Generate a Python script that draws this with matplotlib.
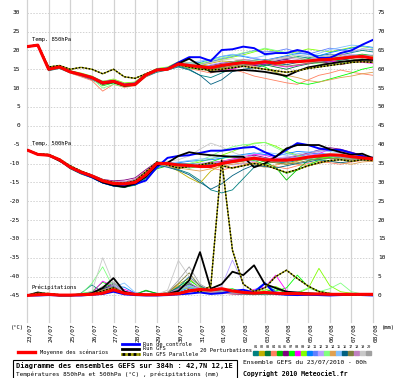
import matplotlib
matplotlib.use("Agg")
import matplotlib.pyplot as plt
import matplotlib.transforms as mtrans

# time steps (hours from 23/07 00h), 12h resolution
hours = list(range(0, 385, 12))
day_labels = ["23/07", "24/07", "25/07", "26/07", "27/07", "28/07", "29/07", "30/07", "31/07",
              "01/08", "02/08", "03/08", "04/08", "05/08", "06/08", "07/08", "08/08"]

# ---- 850 hPa (°C)
t850_mean = [21.0, 21.4, 15.0, 15.6, 14.3, 13.6, 12.8, 11.4, 11.8, 10.8, 11.0, 13.5, 14.8, 15.0, 16.4, 16.0, 15.7,
             15.4, 16.0, 16.4, 16.8, 16.6, 17.0, 16.6, 17.0, 17.0, 17.2, 17.5, 17.6, 17.9, 18.2, 18.4, 17.9]
t850_ctrl = [21.0, 21.4, 15.1, 15.7, 14.4, 13.6, 12.9, 11.5, 11.9, 10.9, 11.2, 13.6, 14.9, 15.2, 16.8, 18.2, 18.2,
             17.2, 20.1, 20.3, 21.0, 20.6, 19.0, 19.3, 19.3, 20.1, 19.5, 18.0, 18.0, 19.3, 20.0, 21.5, 22.8]
t850_gfs = [21.0, 21.4, 15.0, 15.6, 14.3, 13.6, 12.7, 11.2, 11.6, 10.6, 10.9, 13.4, 14.7, 15.1, 16.5, 17.8, 16.0,
            14.3, 14.5, 14.6, 14.8, 14.6, 14.3, 13.8, 13.2, 14.5, 15.5, 16.0, 16.5, 17.0, 17.2, 17.5, 17.5]
t850_para = [21.0, 21.5, 15.6, 16.0, 15.0, 15.5, 15.0, 13.8, 15.0, 13.0, 12.6, 13.8, 14.8, 15.2, 16.2, 15.6, 15.0,
             14.8, 15.0, 15.4, 15.8, 15.4, 15.0, 14.6, 14.2, 14.6, 15.2, 15.6, 16.0, 16.4, 16.8, 17.0, 16.8]
t850_pert = [
    [21.0, 21.3, 14.6, 15.2, 14.0, 13.2, 12.2, 10.8, 11.4, 10.5, 11.2, 13.0, 14.2, 14.8, 15.6, 14.8, 13.4, 12.8, 14.0, 15.2, 16.0, 16.2, 16.8, 17.2, 17.8, 18.4, 18.0, 18.6, 19.0, 18.8, 19.4, 20.0, 19.6],
    [21.0, 21.5, 15.2, 15.9, 14.6, 13.8, 13.0, 11.6, 12.0, 11.0, 11.6, 13.8, 15.0, 15.4, 16.8, 16.4, 16.0, 16.6, 17.2, 17.0, 17.6, 17.0, 16.4, 16.0, 16.8, 17.4, 17.0, 17.8, 18.2, 18.6, 18.0, 18.8, 18.4],
    [21.0, 21.4, 14.8, 15.4, 14.2, 13.4, 12.6, 11.0, 11.6, 10.6, 11.0, 13.2, 14.6, 15.2, 16.2, 15.8, 15.4, 15.0, 15.6, 16.2, 16.4, 16.0, 16.2, 15.6, 15.0, 15.8, 16.4, 16.8, 17.0, 17.4, 17.8, 17.2, 17.0],
    [21.0, 21.3, 15.1, 15.6, 14.0, 13.0, 12.0, 9.2, 11.0, 10.2, 10.6, 13.0, 14.6, 15.0, 16.0, 15.2, 14.6, 14.0, 14.8, 15.0, 14.2, 13.2, 12.6, 12.0, 11.4, 11.0, 12.2, 13.4, 14.0, 14.8, 14.2, 13.8, 13.4],
    [21.0, 21.4, 15.3, 15.8, 14.4, 13.8, 13.0, 11.8, 12.2, 11.2, 11.4, 13.6, 15.0, 15.2, 16.6, 16.2, 16.0, 15.8, 16.4, 16.8, 17.2, 17.4, 17.6, 17.0, 16.8, 17.2, 17.8, 18.2, 18.4, 18.0, 18.6, 19.0, 18.6],
    [21.0, 21.4, 15.0, 15.5, 14.2, 13.4, 12.4, 11.2, 11.6, 10.8, 11.2, 13.6, 14.8, 15.4, 16.2, 15.6, 15.2, 16.0, 16.6, 17.0, 16.6, 16.0, 16.4, 17.2, 17.6, 17.0, 17.4, 17.2, 16.6, 16.2, 16.8, 17.2, 17.0],
    [21.0, 21.4, 15.0, 15.5, 14.4, 13.8, 12.8, 10.6, 11.4, 10.4, 10.8, 13.2, 14.6, 15.0, 16.0, 15.4, 15.0, 15.6, 16.2, 17.0, 17.4, 16.8, 15.6, 14.2, 12.8, 11.4, 11.0, 11.6, 12.4, 13.2, 14.0, 15.0, 15.6],
    [21.0, 21.4, 15.2, 15.8, 14.4, 13.6, 12.8, 11.6, 12.0, 11.0, 11.4, 13.6, 14.8, 15.2, 16.6, 16.2, 15.8, 15.2, 14.6, 15.0, 15.8, 16.2, 16.6, 16.0, 15.6, 16.0, 16.6, 17.0, 17.2, 16.8, 17.4, 16.8, 16.6],
    [21.0, 21.4, 15.4, 15.8, 14.6, 14.0, 13.2, 11.8, 12.4, 11.4, 11.6, 13.8, 15.2, 15.6, 17.0, 16.8, 16.4, 17.0, 17.6, 18.2, 18.8, 19.6, 20.4, 19.8, 19.2, 19.6, 20.4, 20.0, 19.6, 20.2, 20.8, 21.0, 20.6],
    [21.0, 21.4, 15.0, 15.6, 14.2, 13.4, 12.6, 11.2, 11.8, 10.8, 11.2, 13.4, 14.6, 15.0, 16.6, 16.4, 16.8, 17.6, 18.4, 18.8, 18.4, 17.8, 17.4, 18.0, 18.6, 19.2, 19.0, 18.6, 19.4, 20.0, 20.6, 21.2, 20.8],
    [21.0, 21.4, 15.1, 15.6, 14.4, 13.8, 13.0, 11.6, 12.0, 11.0, 11.2, 13.4, 14.8, 15.2, 16.4, 16.0, 16.2, 17.0, 17.8, 18.4, 19.2, 20.0, 19.6, 19.8, 20.4, 19.6, 19.0, 19.8, 20.6, 20.2, 19.6, 20.4, 20.2],
    [21.0, 21.4, 14.9, 15.5, 14.2, 13.6, 12.8, 11.4, 11.8, 10.6, 10.8, 13.2, 14.6, 15.0, 16.2, 15.8, 15.4, 16.2, 16.8, 16.4, 17.2, 18.0, 17.4, 17.8, 17.2, 16.8, 17.6, 18.2, 18.8, 18.4, 19.0, 18.6, 18.8],
    [21.0, 21.4, 15.0, 15.6, 14.3, 13.6, 12.6, 10.0, 11.0, 10.4, 10.8, 13.4, 14.8, 15.2, 16.4, 16.2, 16.6, 17.4, 18.0, 18.6, 19.4, 19.8, 20.6, 20.0, 19.4, 18.2, 17.0, 16.4, 16.0, 16.6, 17.0, 17.6, 17.2],
    [21.0, 21.4, 15.0, 15.6, 14.4, 13.6, 12.6, 10.8, 11.6, 10.6, 11.0, 13.4, 14.8, 15.0, 16.2, 15.8, 15.2, 14.6, 15.2, 15.8, 16.2, 15.8, 15.0, 14.2, 13.4, 12.8, 12.0, 11.6, 12.2, 12.8, 13.2, 13.8, 14.2],
    [21.0, 21.4, 15.0, 15.6, 14.3, 13.6, 12.8, 11.4, 11.8, 10.8, 11.0, 13.6, 15.0, 15.4, 16.4, 16.8, 17.2, 17.6, 18.4, 19.0, 18.6, 18.0, 18.6, 19.2, 19.6, 18.8, 18.4, 19.2, 20.2, 20.8, 21.4, 21.2, 20.6],
    [21.0, 21.4, 15.0, 15.6, 14.3, 13.6, 12.8, 11.4, 11.8, 10.8, 11.0, 13.4, 14.6, 15.0, 15.8, 15.0, 13.4, 11.0, 12.2, 14.4, 15.0, 15.4, 16.0, 16.6, 16.2, 16.8, 17.2, 16.8, 17.4, 17.8, 17.2, 17.6, 17.4],
    [21.0, 21.4, 15.2, 15.8, 14.6, 13.8, 13.0, 11.6, 12.0, 11.2, 11.4, 13.6, 14.8, 15.0, 16.2, 15.6, 15.2, 15.0, 15.4, 15.8, 16.2, 16.4, 16.8, 16.2, 15.8, 16.2, 16.6, 16.8, 16.4, 16.8, 17.4, 17.8, 17.2],
    [21.0, 21.4, 15.0, 15.6, 14.2, 13.4, 12.4, 11.0, 11.6, 10.6, 11.0, 13.2, 14.6, 15.2, 16.6, 16.0, 15.6, 15.8, 16.4, 17.0, 17.6, 17.2, 16.8, 17.4, 18.0, 17.6, 17.2, 17.8, 18.4, 19.0, 18.6, 18.2, 18.0],
    [21.0, 21.4, 15.1, 15.7, 14.4, 13.8, 13.0, 11.8, 12.2, 11.2, 11.4, 13.6, 15.0, 15.4, 16.8, 16.6, 16.2, 16.8, 17.4, 17.8, 17.4, 17.0, 16.8, 17.4, 18.2, 18.8, 18.4, 18.0, 18.6, 19.2, 19.8, 20.4, 20.0],
    [21.0, 21.4, 15.0, 15.6, 14.2, 13.4, 12.6, 11.2, 11.8, 10.8, 11.0, 13.4, 14.6, 14.8, 16.0, 15.6, 15.4, 15.8, 16.2, 16.0, 16.4, 16.8, 17.2, 17.8, 18.4, 18.0, 17.6, 17.0, 17.4, 18.0, 18.4, 18.8, 18.6],
]

# ---- 500 hPa (°C)
t500_mean = [-6.4, -7.6, -7.8, -9.0, -11.0, -12.3, -13.3, -14.6, -15.3, -15.4, -15.0, -13.0, -10.0, -10.0, -10.4, -10.5, -10.8,
             -10.8, -10.0, -9.5, -9.0, -8.6, -9.0, -9.1, -9.1, -8.8, -8.3, -8.0, -7.7, -7.8, -8.2, -8.5, -8.8]
t500_ctrl = [-6.4, -7.6, -7.8, -9.1, -11.1, -12.5, -13.6, -15.0, -15.8, -15.9, -15.5, -14.5, -11.0, -8.5, -8.0, -7.8, -7.2,
             -6.6, -6.6, -6.2, -5.8, -5.6, -7.0, -8.2, -6.4, -4.6, -5.1, -6.0, -6.4, -6.4, -7.2, -8.0, -9.0]
t500_gfs = [-6.4, -7.5, -7.8, -9.3, -10.8, -12.3, -13.5, -15.0, -15.8, -16.2, -15.3, -13.5, -10.4, -9.8, -8.0, -7.0, -7.5,
            -7.8, -8.0, -8.2, -8.2, -11.0, -10.0, -8.2, -6.0, -5.1, -5.1, -5.1, -6.2, -7.0, -7.7, -7.4, -8.6]
t500_para = [-6.4, -7.5, -7.6, -8.8, -10.6, -12.0, -13.2, -14.4, -15.0, -15.2, -14.6, -12.2, -9.6, -10.4, -11.2, -10.8, -10.4,
             -9.8, -10.6, -11.2, -10.6, -10.0, -10.4, -11.4, -12.4, -11.6, -10.6, -9.8, -9.2, -9.0, -9.4, -9.0, -9.2]
t500_pert = [
    [-6.4, -7.5, -7.6, -9.2, -11.2, -12.6, -13.6, -15.0, -15.8, -16.0, -15.4, -12.8, -10.2, -10.8, -11.6, -12.6, -14.5, -17.0, -17.8, -17.0, -14.0, -11.0, -10.0, -9.6, -9.8, -9.2, -8.8, -9.0, -8.6, -8.0, -8.4, -8.8, -9.2],
    [-6.4, -7.6, -7.8, -8.8, -10.8, -12.0, -13.0, -14.2, -15.0, -15.2, -14.6, -12.4, -9.8, -10.6, -12.0, -13.8, -15.2, -12.0, -10.4, -9.6, -9.2, -8.8, -9.4, -9.8, -10.2, -9.4, -8.6, -8.2, -8.4, -8.8, -8.6, -8.2, -8.6],
    [-6.4, -7.7, -8.0, -9.2, -11.4, -12.8, -13.8, -15.2, -16.0, -16.4, -15.6, -13.6, -10.8, -10.2, -10.0, -10.4, -10.2, -9.8, -9.6, -9.2, -9.0, -8.6, -9.2, -9.6, -9.4, -9.0, -8.6, -8.4, -8.0, -8.2, -8.6, -9.0, -9.2],
    [-6.4, -7.6, -7.8, -9.0, -10.8, -12.2, -13.4, -14.6, -15.2, -15.0, -14.2, -12.0, -10.4, -10.8, -11.2, -10.8, -10.6, -11.2, -11.8, -11.0, -10.4, -9.6, -10.2, -10.8, -11.4, -10.6, -10.0, -9.4, -9.8, -10.2, -9.6, -9.2, -9.4],
    [-6.4, -7.6, -7.9, -9.1, -11.0, -12.4, -13.6, -15.0, -15.8, -16.2, -15.8, -14.0, -11.4, -10.6, -10.2, -10.0, -10.4, -10.0, -9.4, -9.0, -8.6, -8.8, -9.6, -11.0, -14.4, -11.6, -9.2, -8.6, -8.2, -8.4, -8.6, -8.8, -9.0],
    [-6.4, -7.6, -7.8, -9.0, -10.8, -12.0, -13.0, -14.2, -14.6, -14.4, -13.8, -11.6, -9.6, -10.2, -10.6, -10.4, -10.6, -10.2, -9.6, -9.2, -8.4, -7.8, -8.4, -9.0, -8.6, -8.0, -7.2, -6.4, -5.8, -6.2, -7.0, -7.8, -8.4],
    [-6.4, -7.5, -7.7, -8.9, -10.9, -12.3, -13.4, -14.8, -15.4, -15.6, -15.2, -13.2, -10.4, -10.6, -10.8, -11.2, -10.8, -9.6, -8.6, -8.2, -8.6, -9.2, -10.2, -11.4, -12.6, -11.8, -10.4, -9.2, -8.4, -8.0, -8.6, -9.0, -9.4],
    [-6.4, -7.6, -7.8, -9.0, -11.0, -12.2, -13.2, -14.6, -15.2, -15.2, -14.6, -12.6, -10.2, -10.0, -10.6, -11.0, -10.4, -9.8, -9.4, -8.8, -8.2, -7.6, -7.8, -8.6, -9.2, -8.6, -8.0, -7.4, -6.2, -6.8, -7.6, -8.2, -8.6],
    [-6.4, -7.6, -7.8, -9.0, -11.2, -12.4, -13.4, -14.8, -15.6, -15.8, -15.4, -13.4, -10.6, -10.4, -10.8, -10.2, -9.6, -8.8, -7.8, -6.8, -5.6, -4.6, -4.4, -5.4, -6.8, -7.8, -8.2, -8.6, -8.2, -7.6, -8.0, -8.4, -8.8],
    [-6.4, -7.6, -7.9, -9.1, -11.2, -12.6, -13.8, -15.2, -16.0, -16.2, -15.6, -13.8, -11.2, -10.2, -9.8, -9.4, -9.2, -9.0, -8.6, -8.0, -7.6, -7.2, -7.6, -8.0, -7.4, -6.8, -7.0, -7.6, -8.0, -8.4, -8.0, -8.4, -8.6],
    [-6.4, -7.6, -7.8, -9.0, -10.9, -12.2, -13.2, -14.4, -15.0, -15.0, -14.4, -12.2, -9.6, -9.8, -10.2, -10.0, -10.2, -10.6, -10.2, -9.6, -9.0, -8.4, -8.8, -9.2, -8.8, -8.2, -7.6, -7.2, -7.6, -8.0, -8.4, -8.8, -9.0],
    [-6.4, -7.6, -7.8, -9.0, -11.0, -12.4, -13.4, -14.6, -15.4, -15.6, -15.2, -13.2, -10.6, -10.8, -11.0, -10.6, -10.0, -9.6, -9.8, -10.4, -10.0, -9.4, -9.0, -8.6, -8.2, -8.4, -8.0, -7.6, -7.8, -8.2, -8.8, -9.2, -9.4],
    [-6.4, -7.6, -7.8, -9.0, -11.0, -12.4, -13.4, -15.0, -15.6, -15.8, -15.2, -12.8, -10.0, -10.2, -10.6, -10.0, -9.2, -8.0, -6.6, -5.6, -5.0, -4.8, -4.4, -5.8, -7.2, -8.0, -8.6, -9.2, -8.6, -8.0, -8.4, -8.8, -9.0],
    [-6.4, -7.6, -7.8, -9.0, -11.0, -12.2, -13.2, -14.4, -15.0, -15.2, -14.8, -12.6, -10.2, -10.6, -11.2, -11.6, -12.0, -11.4, -10.8, -10.2, -9.8, -10.4, -11.0, -10.4, -9.8, -10.2, -10.6, -10.0, -9.4, -9.8, -10.2, -9.6, -9.4],
    [-6.4, -7.6, -7.8, -9.0, -11.0, -12.2, -13.2, -14.6, -15.4, -15.4, -14.8, -12.8, -10.0, -9.8, -9.6, -9.2, -8.8, -8.6, -8.2, -8.0, -7.8, -7.4, -7.0, -7.4, -7.8, -7.4, -7.0, -6.6, -6.8, -7.2, -7.6, -8.0, -8.2],
    [-6.4, -7.6, -7.8, -9.0, -11.0, -12.4, -13.4, -14.8, -15.6, -15.8, -15.2, -13.0, -10.4, -11.0, -11.8, -13.0, -15.0, -16.8, -15.4, -13.2, -11.6, -10.4, -10.8, -11.2, -10.6, -10.0, -9.6, -9.0, -9.4, -9.8, -9.4, -9.0, -9.2],
    [-6.4, -7.6, -7.8, -9.0, -11.0, -12.2, -13.2, -14.6, -15.2, -15.4, -15.0, -13.0, -10.2, -10.2, -10.6, -10.8, -10.6, -10.4, -10.0, -9.8, -9.4, -9.0, -9.4, -9.8, -10.2, -9.8, -9.2, -8.8, -8.6, -8.8, -9.0, -8.8, -9.0],
    [-6.4, -7.6, -7.8, -9.0, -10.8, -12.0, -13.0, -14.2, -14.8, -14.8, -14.2, -12.2, -9.8, -10.0, -10.4, -10.6, -10.2, -9.8, -9.4, -9.0, -8.6, -8.2, -8.6, -9.0, -8.4, -7.8, -7.4, -6.8, -6.2, -6.6, -7.2, -7.8, -8.2],
    [-6.4, -7.6, -7.8, -9.0, -11.0, -12.4, -13.4, -14.6, -15.2, -15.2, -14.6, -12.4, -9.6, -9.4, -9.0, -8.0, -6.2, -4.6, -5.6, -7.0, -8.0, -8.4, -8.8, -9.2, -9.0, -8.6, -8.2, -7.8, -7.4, -7.6, -8.0, -8.4, -8.6],
    [-6.4, -7.6, -7.8, -9.0, -11.0, -12.4, -13.4, -14.8, -15.4, -15.6, -15.2, -13.2, -10.4, -10.4, -10.6, -10.8, -11.0, -10.6, -10.2, -9.6, -9.2, -8.8, -9.2, -9.6, -9.4, -9.0, -8.6, -8.2, -8.0, -8.4, -8.8, -9.0, -9.2],
]

# ---- precipitation (mm), drawn on the right scale (0 mm = -45 on the left scale)
rr_mean = [0, 0.2, 0.3, 0.1, 0.1, 0.2, 0.3, 0.6, 1.5, 0.6, 0.3, 0.2, 0.2, 0.3, 0.5, 1.2, 1.6,
           1.4, 1.8, 1.2, 0.8, 0.6, 0.8, 0.6, 0.5, 0.5, 0.4, 0.4, 0.3, 0.3, 0.3, 0.3, 0.3]
rr_ctrl = [0, 0, 0.1, 0, 0, 0, 0.2, 0.4, 1.0, 0.3, 0.1, 0, 0, 0.1, 0.3, 0.5, 0.8,
           0.4, 0.6, 1.2, 1.5, 0.8, 3.2, 0.4, 0.2, 0.1, 0.2, 0.1, 0, 0.1, 0.2, 0.1, 0]
rr_gfs = [0, 0.8, 0.3, 0, 0, 0.2, 0.6, 2.0, 4.6, 1.0, 0.3, 0.2, 0.2, 0.4, 1.2, 4.0, 11.5,
          1.8, 3.0, 6.3, 5.4, 8.0, 3.0, 2.0, 1.0, 0.8, 0.6, 0.4, 0.3, 0.3, 0.2, 0.3, 0.2]
rr_para = [0, 0.6, 0.5, 0.2, 0, 0.2, 0.4, 1.2, 2.0, 0.6, 0.3, 0.2, 0.2, 0.3, 0.6, 1.5, 1.0,
           2.5, 36.0, 12.0, 3.0, 1.0, 2.0, 5.0, 6.7, 4.5, 2.5, 1.0, 0.5, 0.3, 0.2, 0.2, 0.2]
rr_pert = [
    [0, 0.3, 0.5, 0.2, 0, 0.6, 2.8, 0.8, 1.2, 0.4, 0.2, 0.1, 0.2, 0.6, 2.0, 3.5, 1.2, 0.8, 1.0, 0.6, 0.4, 0.3, 0.2, 0.3, 0.2, 0.1, 0.2, 0.3, 0.2, 0.1, 0.2, 0.1, 0.1],
    [0, 0.4, 0.6, 0.1, 0, 0.2, 0.4, 1.5, 2.5, 0.6, 0.3, 0.2, 0.2, 0.5, 3.0, 4.5, 2.0, 1.0, 0.6, 0.8, 0.4, 0.3, 0.6, 0.4, 0.3, 0.2, 0.2, 0.1, 0.1, 0.2, 0.1, 0.1, 0.1],
    [0, 0.2, 0.4, 0.1, 0, 0.3, 0.8, 2.0, 3.2, 0.8, 0.4, 1.2, 0.6, 0.4, 1.5, 3.0, 1.6, 0.8, 1.2, 0.6, 0.3, 0.2, 0.4, 0.3, 0.2, 0.2, 0.1, 0.2, 0.1, 0.1, 0.1, 0.2, 0.1],
    [0, 0.2, 0.3, 0.1, 0, 0.2, 0.5, 1.2, 2.0, 0.5, 0.2, 0.1, 0.3, 0.8, 2.5, 1.8, 0.8, 0.5, 0.6, 0.4, 0.3, 0.8, 0.4, 0.2, 0.2, 0.3, 0.2, 0.1, 0.1, 0.1, 0.2, 0.1, 0.1],
    [0, 0.3, 0.5, 0.2, 0, 0.3, 0.6, 1.8, 2.6, 0.6, 0.3, 1.4, 0.5, 0.4, 1.8, 3.2, 1.4, 0.6, 0.8, 1.0, 0.5, 0.4, 1.0, 1.8, 0.6, 0.3, 0.2, 0.2, 0.1, 0.1, 0.1, 0.1, 0.1],
    [0, 0.2, 0.4, 0.1, 0, 0.2, 0.6, 1.6, 3.0, 0.8, 0.4, 0.2, 0.2, 0.4, 1.2, 2.8, 1.8, 0.8, 0.6, 0.4, 0.3, 0.5, 0.6, 0.4, 0.3, 0.2, 0.2, 0.1, 0.1, 0.1, 0.1, 0.1, 0.1],
    [0, 0.2, 0.3, 0.1, 0, 0.5, 1.0, 3.5, 2.2, 0.6, 0.3, 0.2, 0.3, 0.6, 2.4, 4.0, 2.2, 1.0, 1.4, 1.8, 0.8, 0.6, 0.8, 1.2, 2.0, 5.4, 2.4, 1.2, 0.6, 0.4, 0.3, 0.2, 0.2],
    [0, 0.3, 0.4, 0.1, 0, 0.3, 0.6, 3.8, 2.4, 1.6, 0.6, 0.3, 0.3, 0.5, 1.6, 2.6, 1.4, 0.6, 0.8, 0.5, 0.6, 1.6, 2.2, 5.4, 1.2, 0.4, 0.3, 0.2, 0.1, 0.1, 0.1, 0.1, 0.1],
    [0, 0.3, 0.4, 0.1, 0, 0.2, 0.5, 1.4, 2.0, 0.5, 0.3, 0.2, 0.2, 0.4, 1.4, 2.4, 1.2, 0.8, 1.2, 0.9, 0.6, 0.8, 1.4, 2.4, 1.0, 0.6, 1.8, 7.2, 2.6, 1.0, 0.6, 0.3, 0.2],
    [0, 0.2, 0.3, 0.1, 0, 0.2, 0.4, 1.0, 2.4, 2.2, 0.6, 0.2, 0.2, 0.4, 1.0, 2.0, 1.6, 1.0, 1.4, 1.0, 0.8, 1.2, 3.4, 1.0, 0.4, 0.3, 0.2, 0.2, 0.1, 0.1, 0.1, 0.1, 0.1],
    [0, 0.2, 0.3, 0.1, 0, 0.2, 0.5, 1.2, 2.8, 1.2, 0.4, 0.2, 0.2, 0.3, 1.2, 2.2, 1.0, 0.8, 1.0, 0.6, 0.4, 0.6, 1.0, 0.6, 0.3, 0.2, 0.2, 0.1, 0.1, 0.1, 0.6, 0.2, 0.1],
    [0, 0.2, 0.3, 0.1, 0, 0.2, 0.4, 1.0, 2.0, 0.6, 0.3, 0.2, 0.2, 0.4, 1.6, 2.8, 1.6, 1.2, 2.4, 9.4, 3.0, 1.0, 0.6, 0.4, 0.3, 0.2, 0.2, 0.1, 0.1, 0.1, 0.1, 0.1, 0.1],
    [0, 0.2, 0.4, 0.2, 0, 0.4, 3.2, 7.6, 2.0, 0.6, 0.3, 0.2, 0.2, 0.4, 1.2, 2.4, 1.4, 0.8, 1.0, 0.6, 0.4, 0.3, 0.4, 0.6, 0.4, 0.8, 2.0, 1.0, 1.8, 3.3, 1.0, 0.4, 0.2],
    [0, 0.2, 0.3, 0.1, 0, 0.2, 0.4, 1.0, 1.6, 0.5, 0.3, 0.2, 0.3, 0.8, 2.6, 1.6, 1.0, 0.8, 1.2, 0.8, 0.5, 0.6, 0.4, 0.3, 0.2, 0.2, 0.2, 0.1, 0.1, 0.1, 0.1, 0.1, 0.1],
    [0, 0.2, 0.3, 0.1, 0, 0.2, 0.4, 1.0, 2.2, 3.3, 0.8, 0.3, 0.2, 0.4, 1.4, 2.6, 1.8, 1.2, 1.0, 0.8, 0.6, 0.4, 0.6, 0.3, 0.2, 0.2, 0.1, 0.1, 0.1, 0.1, 0.1, 0.1, 0.1],
    [0, 0.2, 0.4, 0.1, 0, 0.3, 0.8, 1.8, 2.4, 0.8, 0.4, 0.2, 0.3, 0.6, 2.2, 5.0, 2.6, 1.2, 0.8, 0.6, 0.4, 0.3, 0.4, 0.3, 0.2, 0.2, 0.1, 0.1, 0.1, 0.1, 0.1, 0.1, 0.1],
    [0, 0.3, 0.4, 0.1, 0, 0.3, 0.6, 1.6, 2.2, 0.6, 0.3, 0.2, 0.3, 0.8, 3.2, 6.0, 2.4, 1.0, 0.8, 0.6, 0.4, 0.6, 0.8, 0.4, 0.3, 0.2, 0.2, 0.1, 0.1, 0.1, 0.1, 0.1, 0.1],
    [0, 0.2, 0.3, 0.1, 0, 0.2, 0.5, 1.4, 2.6, 0.8, 0.4, 0.2, 0.2, 0.5, 1.8, 3.4, 1.8, 0.8, 0.6, 0.5, 0.4, 0.6, 0.8, 0.6, 0.4, 0.3, 0.2, 0.1, 0.1, 0.1, 0.2, 0.1, 0.1],
    [0, 0.2, 0.3, 0.1, 0, 0.3, 1.0, 10.0, 3.0, 0.8, 0.4, 0.2, 0.3, 1.4, 9.3, 5.0, 2.0, 1.0, 1.2, 0.8, 0.6, 0.6, 1.0, 0.8, 0.6, 0.4, 0.3, 0.2, 0.1, 0.1, 0.1, 0.1, 0.1],
    [0, 0.2, 0.3, 0.1, 0, 0.2, 0.6, 2.4, 3.6, 1.0, 0.4, 0.2, 0.3, 0.8, 4.0, 7.6, 3.0, 1.4, 1.0, 0.8, 0.5, 0.4, 0.6, 0.4, 0.3, 0.2, 0.2, 0.1, 0.1, 0.1, 0.1, 0.1, 0.1],
]

pert_colors = ["#008080", "#c0b000", "#007a3d", "#ff8060", "#00c000", "#800080", "#00ff00", "#ff00ff",
               "#80ff00", "#0080ff", "#6080ff", "#b8a0ff", "#80ff80", "#e0a050", "#80c0ff", "#006080",
               "#808040", "#c080c0", "#c8c8c8", "#a0a0a0"]

left_ticks = list(range(30, -50, -5))
right_ticks = list(range(75, -5, -5))

MONO = "DejaVu Sans Mono"
FS = 3.9
W, H = 400, 378


def fx(x):
    return x / W


def fy(y):
    return 1 - y / H


fig = plt.figure(figsize=(W / 100, H / 100), dpi=100)
fig.patch.set_facecolor("white")
ax = fig.add_axes([fx(27), fy(322), 346 / W, 322 / H])
ax.set_xlim(0, 384)
ax.set_ylim(-52.04, 33.37)
ax.axis("off")

# grid
for d in range(len(day_labels)):
    ax.axvline(24 * d, color="#d2d2d2", lw=0.9, zorder=0, clip_on=False)
for v in left_ticks:
    ax.axhline(v, color="#d2d2d2", lw=0.7, ls=(0, (1.5, 1.5)), zorder=0)

# perturbations
for k in range(20):
    c = pert_colors[k]
    ax.plot(hours, t850_pert[k], color=c, lw=0.6, zorder=2)
    ax.plot(hours, t500_pert[k], color=c, lw=0.6, zorder=2)
    ax.plot(hours, [-45 + p for p in rr_pert[k]], color=c, lw=0.6, zorder=2)

# control / GFS / parallel
for s in (t850_ctrl, t500_ctrl, [-45 + p for p in rr_ctrl]):
    ax.plot(hours, s, color="#0000ff", lw=1.4, zorder=3)
for s in (t850_gfs, t500_gfs, [-45 + p for p in rr_gfs]):
    ax.plot(hours, s, color="#000000", lw=1.3, zorder=3)
for s in (t850_para, t500_para, [-45 + p for p in rr_para]):
    ax.plot(hours, s, color="#a0a000", lw=1.0, zorder=3)
    ax.plot(hours, s, color="#000000", lw=1.0, ls=(0, (1.2, 1.2)), zorder=3)

# ensemble mean
for s in (t850_mean, t500_mean, [-45 + p for p in rr_mean]):
    ax.plot(hours, s, color="#ff0000", lw=2.2, zorder=4, solid_capstyle="butt")

# axis labels
tr_l = mtrans.blended_transform_factory(fig.transFigure, ax.transData)
for v in left_ticks:
    ax.text(fx(20), v, str(v), transform=tr_l, ha="right", va="center", fontsize=4.4, family=MONO)
for v, r in zip(left_ticks, right_ticks):
    ax.text(fx(378), v, str(r), transform=tr_l, ha="left", va="center", fontsize=4.4, family=MONO)

tr_d = mtrans.blended_transform_factory(ax.transData, fig.transFigure)
for d, lab in enumerate(day_labels):
    ax.text(24 * d + 2.5, fy(323), lab, transform=tr_d, rotation=90, ha="center", va="top",
            fontsize=4.4, family=MONO)

ax.text(fx(32), 23.0, "Temp. 850hPa", transform=tr_l, fontsize=4.0, family=MONO, va="center")
ax.text(fx(32), -4.8, "Temp. 500hPa", transform=tr_l, fontsize=4.0, family=MONO, va="center")
ax.text(fx(32), -42.7, "Précipitations", transform=tr_l, fontsize=4.0, family=MONO, va="center")
fig.text(fx(11), fy(327), "(°C)", fontsize=4.0, family=MONO, va="center")
fig.text(fx(382), fy(328), "(mm)", fontsize=4.0, family=MONO, va="center")

# legend
fig.add_artist(plt.Line2D([fx(18), fx(35)], [fy(352), fy(352)], color="#ff0000", lw=2.4))
fig.text(fx(40), fy(352), "Moyenne des scénarios", fontsize=FS, family=MONO, va="center")
fig.add_artist(plt.Line2D([fx(122), fx(139)], [fy(344), fy(344)], color="#0000ff", lw=2.0))
fig.text(fx(143), fy(344), "Run de controle", fontsize=FS, family=MONO, va="center")
fig.add_artist(plt.Line2D([fx(122), fx(139)], [fy(349), fy(349)], color="#000000", lw=2.0))
fig.text(fx(143), fy(349), "Run GFS", fontsize=FS, family=MONO, va="center")
fig.add_artist(plt.Line2D([fx(122), fx(139)], [fy(354), fy(354)], color="#a0a000", lw=2.0))
fig.add_artist(plt.Line2D([fx(122), fx(139)], [fy(354), fy(354)], color="#000000", lw=2.0,
                          ls=(0, (1, 1))))
fig.text(fx(143), fy(354), "Run GFS Parallele", fontsize=FS, family=MONO, va="center")

fig.text(fx(200), fy(351), "20 Perturbations", fontsize=FS, family=MONO, va="center")
for k in range(20):
    x0 = 253 + k * 5.95
    fig.add_artist(plt.Rectangle((fx(x0), fy(355)), 5.2 / W, 3.6 / H, color=pert_colors[k],
                                 transform=fig.transFigure))
    fig.text(fx(x0 + 2.6), fy(347.5), "%02d" % (k + 1), fontsize=2.6, family=MONO,
             ha="center", va="center")

# title box
fig.add_artist(plt.Rectangle((fx(12.5), fy(379)), 224 / W, 19 / H, fill=False, ec="#000000",
                             lw=0.8, transform=fig.transFigure))
fig.text(fx(16), fy(365.5), "Diagramme des ensembles GEFS sur 384h : 42,7N 12,1E", fontsize=5.0,
         family=MONO, weight="bold", va="center")
fig.text(fx(16), fy(374), "Températures 850hPa et 500hPa (°C) , précipitations (mm)", fontsize=4.3,
         family=MONO, va="center")
fig.text(fx(243), fy(362.5), "Ensemble GEFS du 23/07/2010 - 00h", fontsize=4.5, family=MONO, va="center")
fig.text(fx(243), fy(374), "Copyright 2010 Meteociel.fr", fontsize=4.7, family=MONO, weight="bold",
         va="center")

fig.savefig("out.png", dpi=100, facecolor="white")
